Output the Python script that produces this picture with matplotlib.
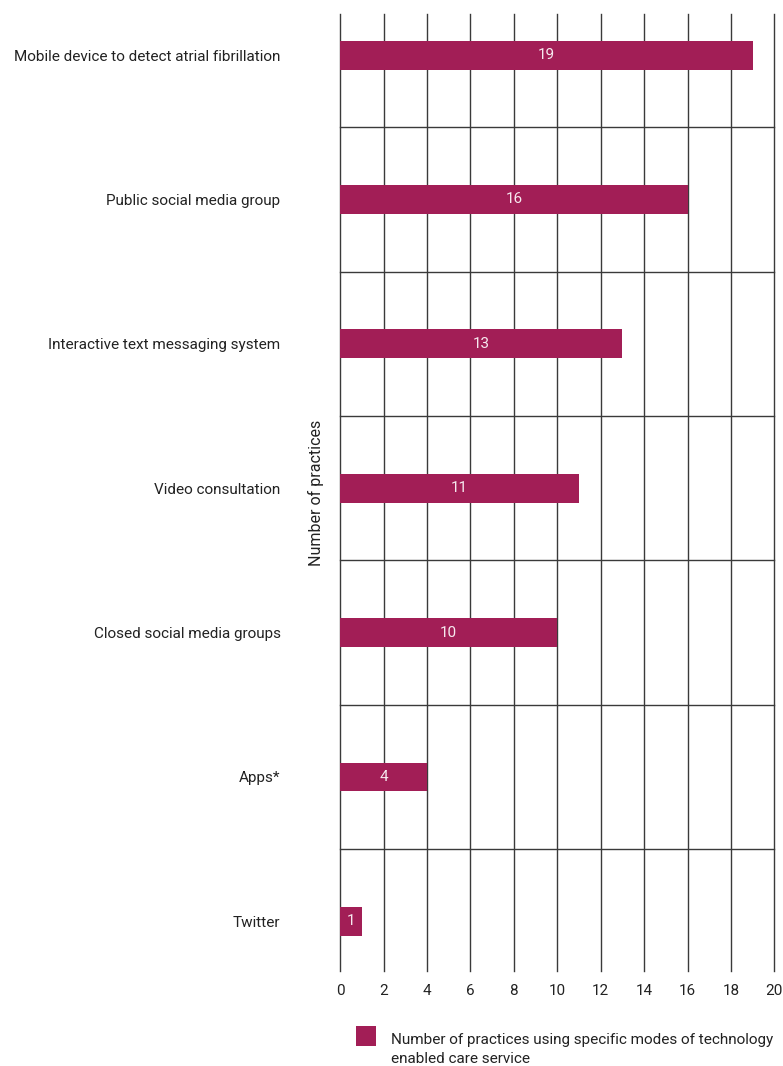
import numpy as np
import matplotlib
matplotlib.use("Agg")
import matplotlib.pyplot as plt
from matplotlib.patches import Rectangle

# chart values
categories = [
    "Mobile device to detect atrial fibrillation",
    "Public social media group",
    "Interactive text messaging system",
    "Video consultation",
    "Closed social media groups",
    "Apps*",
    "Twitter",
]
practices = [19, 16, 13, 11, 10, 4, 1]
x_ticks = list(range(0, 21, 2))
legend_label = "Number of practices using specific modes of technology\nenabled care service"

bar_color = "#A21E56"
grid_color = "#3a3a3a"
text_color = "#222222"

plt.rcParams["font.family"] = ["Roboto", "DejaVu Sans"]

fig = plt.figure(figsize=(7.83, 10.66), dpi=100)
ax = fig.add_axes([0.4346, 0.0891, 0.5543, 0.8978])

pos = np.arange(len(categories))
ax.barh(pos, practices, height=0.2, color=bar_color, zorder=3)

for p, v in zip(pos, practices):
    ax.text(v / 2, p, str(v), ha="center", va="center", color="#F6E9EF",
            fontsize=11, zorder=4)

# vertical grid at each tick, horizontal separators between categories
for xt in x_ticks:
    ax.axvline(xt, color=grid_color, lw=1, zorder=1, clip_on=False)
for sep in pos[:-1] + 0.5:
    ax.axhline(sep, color=grid_color, lw=1, zorder=1, clip_on=False)

ax.set_xlim(0, 20)
ax.set_ylim(6.344, -0.285)
ax.set_xticks(x_ticks)
ax.set_yticks(pos)
ax.set_yticklabels(categories)
ax.tick_params(axis="both", length=0, labelsize=11, labelcolor=text_color)
ax.tick_params(axis="y", pad=43)
ax.tick_params(axis="x", pad=9)
for s in ax.spines.values():
    s.set_visible(False)

ax.set_ylabel("Number of practices", fontsize=11.5, color=text_color)
ax.yaxis.set_label_coords(-0.038, 0.5)

# legend drawn by hand so the swatch sits beside the first line
fig.patches.append(Rectangle((0.4547, 0.0188), 0.0255, 0.0188,
                             transform=fig.transFigure, facecolor=bar_color,
                             edgecolor="none"))
fig.text(0.4994, 0.0305, legend_label, ha="left", va="top", fontsize=11,
         color=text_color, linespacing=1.4)

fig.savefig("out.png", dpi=100)
